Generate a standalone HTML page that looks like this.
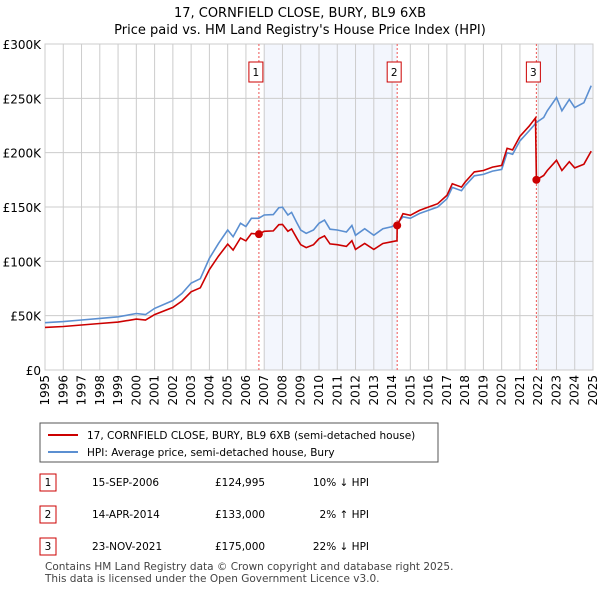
<!DOCTYPE html>
<html><head><meta charset="utf-8"><style>
body{margin:0;background:#fff;font-family:"Liberation Sans","DejaVu Sans",sans-serif;}
svg text{font-family:"DejaVu Sans","Liberation Sans",sans-serif;}
</style></head><body>
<svg id="chart" width="600" height="590" xmlns="http://www.w3.org/2000/svg">
<text x="300" y="17" text-anchor="middle" font-size="13">17, CORNFIELD CLOSE, BURY, BL9 6XB</text>
<text x="300" y="34" text-anchor="middle" font-size="13">Price paid vs. HM Land Registry's House Price Index (HPI)</text>
<g id="plot"></g>
<g>
<rect x="40" y="423" width="398" height="39" fill="#fff" stroke="#555"/>
<line x1="48" y1="435" x2="78" y2="435" stroke="#cc0000" stroke-width="2"/>
<text x="87" y="439" font-size="10.5">17, CORNFIELD CLOSE, BURY, BL9 6XB (semi-detached house)</text>
<line x1="48" y1="452" x2="78" y2="452" stroke="#5b8fd1" stroke-width="2"/>
<text x="87" y="456" font-size="10.5">HPI: Average price, semi-detached house, Bury</text>
</g>
<g font-size="10.5">
<rect x="40" y="474" width="16" height="17" fill="#fff" stroke="#cc0000"/><text x="48" y="486" text-anchor="middle">1</text>
<text x="92" y="486">15-SEP-2006</text><text x="215" y="486">£124,995</text><text x="369" y="486" text-anchor="end">10% ↓ HPI</text>
<rect x="40" y="506" width="16" height="17" fill="#fff" stroke="#cc0000"/><text x="48" y="518" text-anchor="middle">2</text>
<text x="92" y="518">14-APR-2014</text><text x="215" y="518">£133,000</text><text x="369" y="518" text-anchor="end">2% ↑ HPI</text>
<rect x="40" y="538" width="16" height="17" fill="#fff" stroke="#cc0000"/><text x="48" y="550" text-anchor="middle">3</text>
<text x="92" y="550">23-NOV-2021</text><text x="215" y="550">£175,000</text><text x="369" y="550" text-anchor="end">22% ↓ HPI</text>
</g>
<text x="45" y="570" font-size="10.5" fill="#444">Contains HM Land Registry data © Crown copyright and database right 2025.</text>
<text x="45" y="582" font-size="10.5" fill="#444">This data is licensed under the Open Government Licence v3.0.</text>
</svg>
<script>
const yTicks=[0,50,100,150,200,250,300];
const yTickLabels=["£0","£50K","£100K","£150K","£200K","£250K","£300K"];
const years=[1995,1996,1997,1998,1999,2000,2001,2002,2003,2004,2005,2006,2007,2008,2009,2010,2011,2012,2013,2014,2015,2016,2017,2018,2019,2020,2021,2022,2023,2024,2025];
const hpiDates=[1995,1996,1997,1998,1999,2000,2000.5,2001,2002,2002.5,2003,2003.5,2004,2004.5,2005,2005.3,2005.7,2006,2006.3,2006.7,2007,2007.5,2007.8,2008,2008.3,2008.5,2008.8,2009,2009.3,2009.7,2010,2010.3,2010.6,2011,2011.5,2011.8,2012,2012.5,2013,2013.5,2014,2014.28,2014.6,2015,2015.5,2016,2016.5,2017,2017.3,2017.8,2018,2018.5,2019,2019.5,2020,2020.3,2020.6,2021,2021.5,2021.9,2022.3,2022.5,2023,2023.3,2023.7,2024,2024.5,2024.9];
const hpiValues=[43.5,44.5,46,47.5,49,52,51,56.7,64,70.5,80,84,102.8,116.5,128.8,122.7,135,132,139.6,139.6,142.6,143,149.4,149.8,142.6,145,135,128.8,125.8,128.8,135,137.9,129.6,128.8,127,133,124,130,124,130,132,135,141,139.6,144,147,150,157.5,168,165,169.5,178.7,180,183,184.6,200,198.5,210.8,220,227.8,232.4,238.5,250.8,238.5,249,241.5,246,261.6];
const priceDates=[1995,1996,1997,1998,1999,2000,2000.5,2001,2002,2002.5,2003,2003.5,2004,2004.5,2005,2005.3,2005.7,2006,2006.3,2006.7,2007,2007.5,2007.8,2008,2008.3,2008.5,2008.8,2009,2009.3,2009.7,2010,2010.3,2010.6,2011,2011.5,2011.8,2012,2012.5,2013,2013.5,2014,2014.27,2014.28,2014.6,2015,2015.5,2016,2016.5,2017,2017.3,2017.8,2018,2018.5,2019,2019.5,2020,2020.3,2020.6,2021,2021.5,2021.85,2021.9,2022.3,2022.5,2023,2023.3,2023.7,2024,2024.5,2024.9];
const priceValues=[39.2,40,41.4,42.8,44.1,46.8,45.9,51,57.6,63.5,72,75.6,92.5,104.8,115.9,110.4,121.5,118.8,125.6,125,127.6,128,133.7,134,127.6,129.8,120.8,115.3,112.6,115.3,120.8,123.4,116,115.3,113.7,119,111,116.4,111,116.4,118.1,119,133,143.8,142.4,146.9,150,153,160.7,171.4,168.3,172.9,182.3,183.6,186.7,188.3,204,202.5,215,224.4,232,175,179,183.6,193,183.6,191.7,186,189.4,201.4];
const saleDates=[2006.71,2014.28,2021.9];
const saleValues=[124.995,133,175];
const saleLabels=["1","2","3"];
const shadeRanges=[[2007,2014.28],[2022,2025]];

const X0=45,X1=593,Y0=370,Y1=44,D0=1995,D1=2025,V0=0,V1=300;
const xs=d=>X0+(d-D0)/(D1-D0)*(X1-X0);
const ys=v=>Y0-(v-V0)/(V1-V0)*(Y0-Y1);
const NS="http://www.w3.org/2000/svg";
const g=document.getElementById('plot');
function mk(t,a,p){const e=document.createElementNS(NS,t);for(const k in a)e.setAttribute(k,a[k]);(p||g).appendChild(e);return e;}

shadeRanges.forEach(r=>{
  const e=mk('rect',{x:xs(r[0]),y:Y1,width:xs(r[1])-xs(r[0]),height:Y0-Y1,fill:'#f3f6fd'});
  
  
});
years.forEach(yr=>{
  const l=mk('line',{x1:xs(yr),x2:xs(yr),y1:Y1,y2:Y0,stroke:'#cccccc'});
  
  
  const t=mk('text',{x:xs(yr)+4,y:Y0+5,'font-size':'12','text-anchor':'end',transform:`rotate(-90 ${xs(yr)+4} ${Y0+5})`});
  t.textContent=yr;
  
  
});
yTicks.forEach((v,i)=>{
  const l=mk('line',{x1:X0,x2:X1,y1:ys(v),y2:ys(v),stroke:'#cccccc'});
  
  
  const t=mk('text',{x:X0-4,y:ys(v)+5,'font-size':'12','text-anchor':'end'});
  t.textContent=yTickLabels[i];
  
  
});
const border=mk('rect',{x:X0,y:Y1,width:X1-X0,height:Y0-Y1,fill:'none',stroke:'#cccccc'});



saleDates.forEach((d,i)=>{
  const l=mk('line',{x1:xs(d),x2:xs(d),y1:Y1,y2:Y0,stroke:'#ee5555','stroke-dasharray':'2,2'});
  
  
});
function path(ds,vs,color,name){
  const p=mk('path',{d:ds.map((d,i)=>(i?'L':'M')+xs(d).toFixed(1)+','+ys(vs[i]).toFixed(1)).join(''),fill:'none',stroke:color,'stroke-width':'1.6'});
  
  
}
path(hpiDates,hpiValues,'#5b8fd1','hpi-line');
path(priceDates,priceValues,'#cc0000','price-line');
saleDates.forEach((d,i)=>{
  const c=mk('circle',{cx:xs(d),cy:ys(saleValues[i]),r:4,fill:'#cc0000'});
  
  
  const bx=xs(d)-10;
  const r=mk('rect',{x:bx,y:62,width:14,height:20,fill:'#fff',stroke:'#cc0000'});
  
  
  const t=mk('text',{x:bx+7,y:76,'font-size':'10.5','text-anchor':'middle'});
  t.textContent=saleLabels[i];
  
  
});
</script>
</body></html>
